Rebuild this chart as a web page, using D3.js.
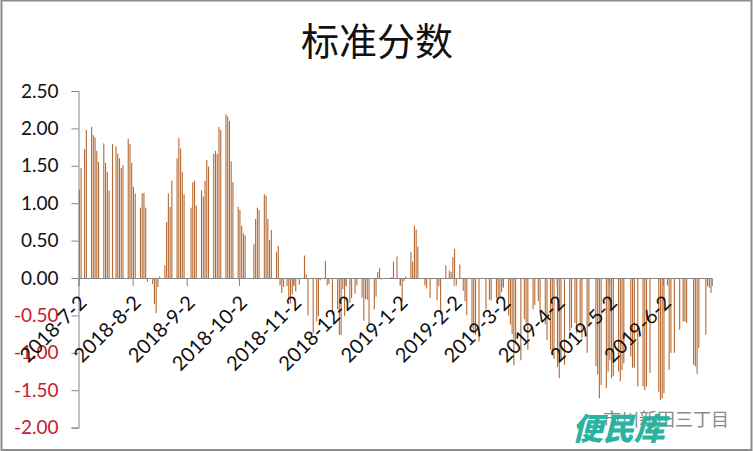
<!DOCTYPE html>
<html><head><meta charset="utf-8">
<script src="https://cdn.jsdelivr.net/npm/d3@7/dist/d3.min.js"></script>
<style>html,body{margin:0;padding:0;background:#fff}svg{display:block}</style></head>
<body><svg id="c" width="753" height="451"></svg>
<script>
const titleText = "标准分数";
const startDate = "2018-07-02";
const endDate = "2019-06-30";
const xTickLabels = ["2018-7-2","2018-8-2","2018-9-2","2018-10-2","2018-11-2","2018-12-2","2019-1-2","2019-2-2","2019-3-2","2019-4-2","2019-5-2","2019-6-2"];
const yTicks = [2.5,2,1.5,1,0.5,0,-0.5,-1,-1.5,-2];
const dayOffsets = [
0,1,3,4,7,8,9,10,11,14,15,16,17,19,21,22,23,24,25,28,29,30,31,32,35,36,37,38,39,42,43,44,45,46,
49,50,51,52,53,56,57,58,59,60,64,65,66,67,70,71,72,73,74,77,78,79,80,81,84,85,86,87,88,91,92,93,94,95,
100,101,102,103,106,107,108,109,110,113,114,115,116,117,119,120,121,122,123,124,126,129,130,131,134,136,137,138,141,142,143,
145,148,149,150,151,152,153,155,156,158,159,162,163,164,165,166,169,170,171,172,173,179,180,182,184,185,186,187,
190,191,192,193,194,198,199,201,205,206,207,210,212,213,214,215,216,218,220,221,222,225,226,227,229,233,235,236,239,240,241,242,243,
246,247,248,249,250,253,255,256,257,260,261,263,264,267,268,270,271,272,274,275,276,278,281,282,284,285,287,288,291,292,296,297,298,299,302,303,304,305,306,309,310,311,312,
316,317,318,320,323,324,325,327,332,333,334,335,337,338,339,341,344,346,347,348,352,353,354,355,359,360,361,362];
const scores = [
1.18,1.47,1.72,1.98,2.02,1.91,1.88,1.70,1.55,1.80,1.54,1.42,1.17,1.79,1.76,1.66,1.60,1.47,1.51,1.86,1.79,1.54,1.22,1.13,0.94,1.13,1.14,0.94,-0.05,-0.08,-0.35,-0.47,-0.12,0.02,
0.17,0.75,1.13,0.95,1.30,1.60,1.87,1.73,1.42,1.12,0.94,1.28,1.30,0.97,1.17,1.09,1.30,1.58,1.49,1.66,1.70,1.66,2.02,1.98,2.19,2.16,2.10,1.56,1.28,0.95,0.91,0.70,0.60,0.57,
0.45,0.79,0.94,0.91,1.12,1.10,0.79,0.51,0.64,0.35,0.43,-0.10,-0.20,-0.12,-0.11,-0.27,-0.34,-0.22,-0.10,-0.18,-0.09,0.30,0.05,-0.50,-0.74,-0.58,-0.51,-0.03,0.23,-0.10,-0.08,
-0.49,-0.42,-0.76,-0.76,-0.15,-0.51,-0.11,-0.33,-0.27,-0.21,-0.10,-0.26,-0.57,-0.28,-0.29,-0.62,-0.42,-0.25,0.08,0.13,-0.02,0.01,0.22,0.29,-0.10,-0.31,-0.04,0.02,
0.35,0.22,0.70,0.65,0.42,-0.10,-0.14,-0.27,-0.30,-0.11,-0.49,0.17,0.10,0.08,0.28,0.39,-0.10,0.18,-0.17,-0.31,-0.50,-0.67,-0.74,-0.76,-0.85,-0.42,-0.29,-0.30,-0.27,-0.29,-0.25,-0.19,-0.13,
-0.50,-0.62,-0.75,-1.17,-0.85,-1.10,-0.55,-0.60,-0.96,-0.42,-0.36,-0.31,-0.42,-0.62,-0.83,-0.96,-1.03,-1.08,-1.19,-1.34,-1.09,-1.16,-0.71,-0.67,-0.60,-0.74,-0.65,-0.80,-1.00,-0.65,-1.18,-1.29,-1.61,-1.43,-1.47,-1.25,-1.10,-1.34,-1.31,-1.25,-1.38,-1.23,-1.14,
-1.05,-1.20,-1.20,-1.45,-1.45,-1.50,-1.45,-1.27,-1.52,-1.63,-1.61,-1.54,-0.10,-1.23,-1.00,-1.00,-0.69,-0.58,-0.58,-0.60,-1.16,-1.18,-1.28,-0.94,-0.76,-0.11,-0.13,-0.20,-0.21];

const svg = d3.select("#c");
const parse = d3.utcParse("%Y-%m-%d");
const labelFont = "Lato, 'Open Sans', sans-serif";
const axisColor = "#868686";
const t0 = parse(startDate);

svg.append("rect").attr("x",1.5).attr("y",0.5).attr("width",750).attr("height",449.5)
  .attr("fill","#fff").attr("stroke","#8c8c8c").attr("stroke-width",2);

const x = d3.scaleUtc().domain([t0, parse(endDate)]).range([78.5, 78.5+1.745*363]);
const y = d3.scaleLinear().domain([-2,2.5]).range([427.6,91]);
const halfDay = (x(d3.utcDay.offset(t0,1))-x(t0))/2;

svg.append("text").attr("x",377).attr("y",55).attr("text-anchor","middle")
  .attr("font-family","'Noto Sans CJK SC'").attr("font-size",38).attr("fill","#111").text(titleText);

const yAxis = svg.append("g").attr("transform","translate(78.5,0)")
  .call(d3.axisLeft(y).tickValues(yTicks).tickSize(7).tickPadding(13).tickFormat(d3.format(".2f")));
yAxis.selectAll("path,line").attr("stroke",axisColor);
yAxis.selectAll("text").attr("font-family",labelFont).attr("font-size",19)
  .attr("fill",d=>d<0?"#c5202e":"#111").text(d=>d3.format(".2f")(d).replace("−","-"));

svg.append("g").selectAll("rect").data(dayOffsets).join("rect")
  .attr("x",d=>x(d3.utcDay.offset(t0,d))+halfDay-0.55)
  .attr("width",1.1)
  .attr("y",(d,i)=>Math.min(y(scores[i]),y(0)))
  .attr("height",(d,i)=>Math.abs(y(scores[i])-y(0)))
  .attr("fill","#b56a34");

const xAxis = svg.append("g").attr("transform",`translate(0,${y(0)})`)
  .call(d3.axisBottom(x).tickValues(xTickLabels.map(s=>parse(s.replace(/-(\d)(?=-|$)/g,"-0$1")))).tickSize(8).tickFormat((d,i)=>xTickLabels[i]));
xAxis.select("path").attr("stroke",axisColor);
xAxis.selectAll("line").attr("stroke",axisColor);
xAxis.selectAll("text").attr("font-family",labelFont).attr("font-size",20).attr("fill","#111")
  .attr("text-anchor","end").attr("x",0).attr("y",0).attr("dy",0)
  .attr("transform","translate(9,26) rotate(-45)");

svg.append("text").attr("x",603).attr("y",426).attr("font-family","'Noto Sans CJK SC'").attr("font-size",18)
  .attr("fill","#8a8a8a").text("市川新田三丁目");
svg.append("text").attr("x",572).attr("y",440).attr("font-family","'Noto Sans CJK SC'").attr("font-size",31)
  .attr("font-weight",900).attr("font-style","italic").attr("fill","#2bb3a1").text("便民库");
</script></body></html>
